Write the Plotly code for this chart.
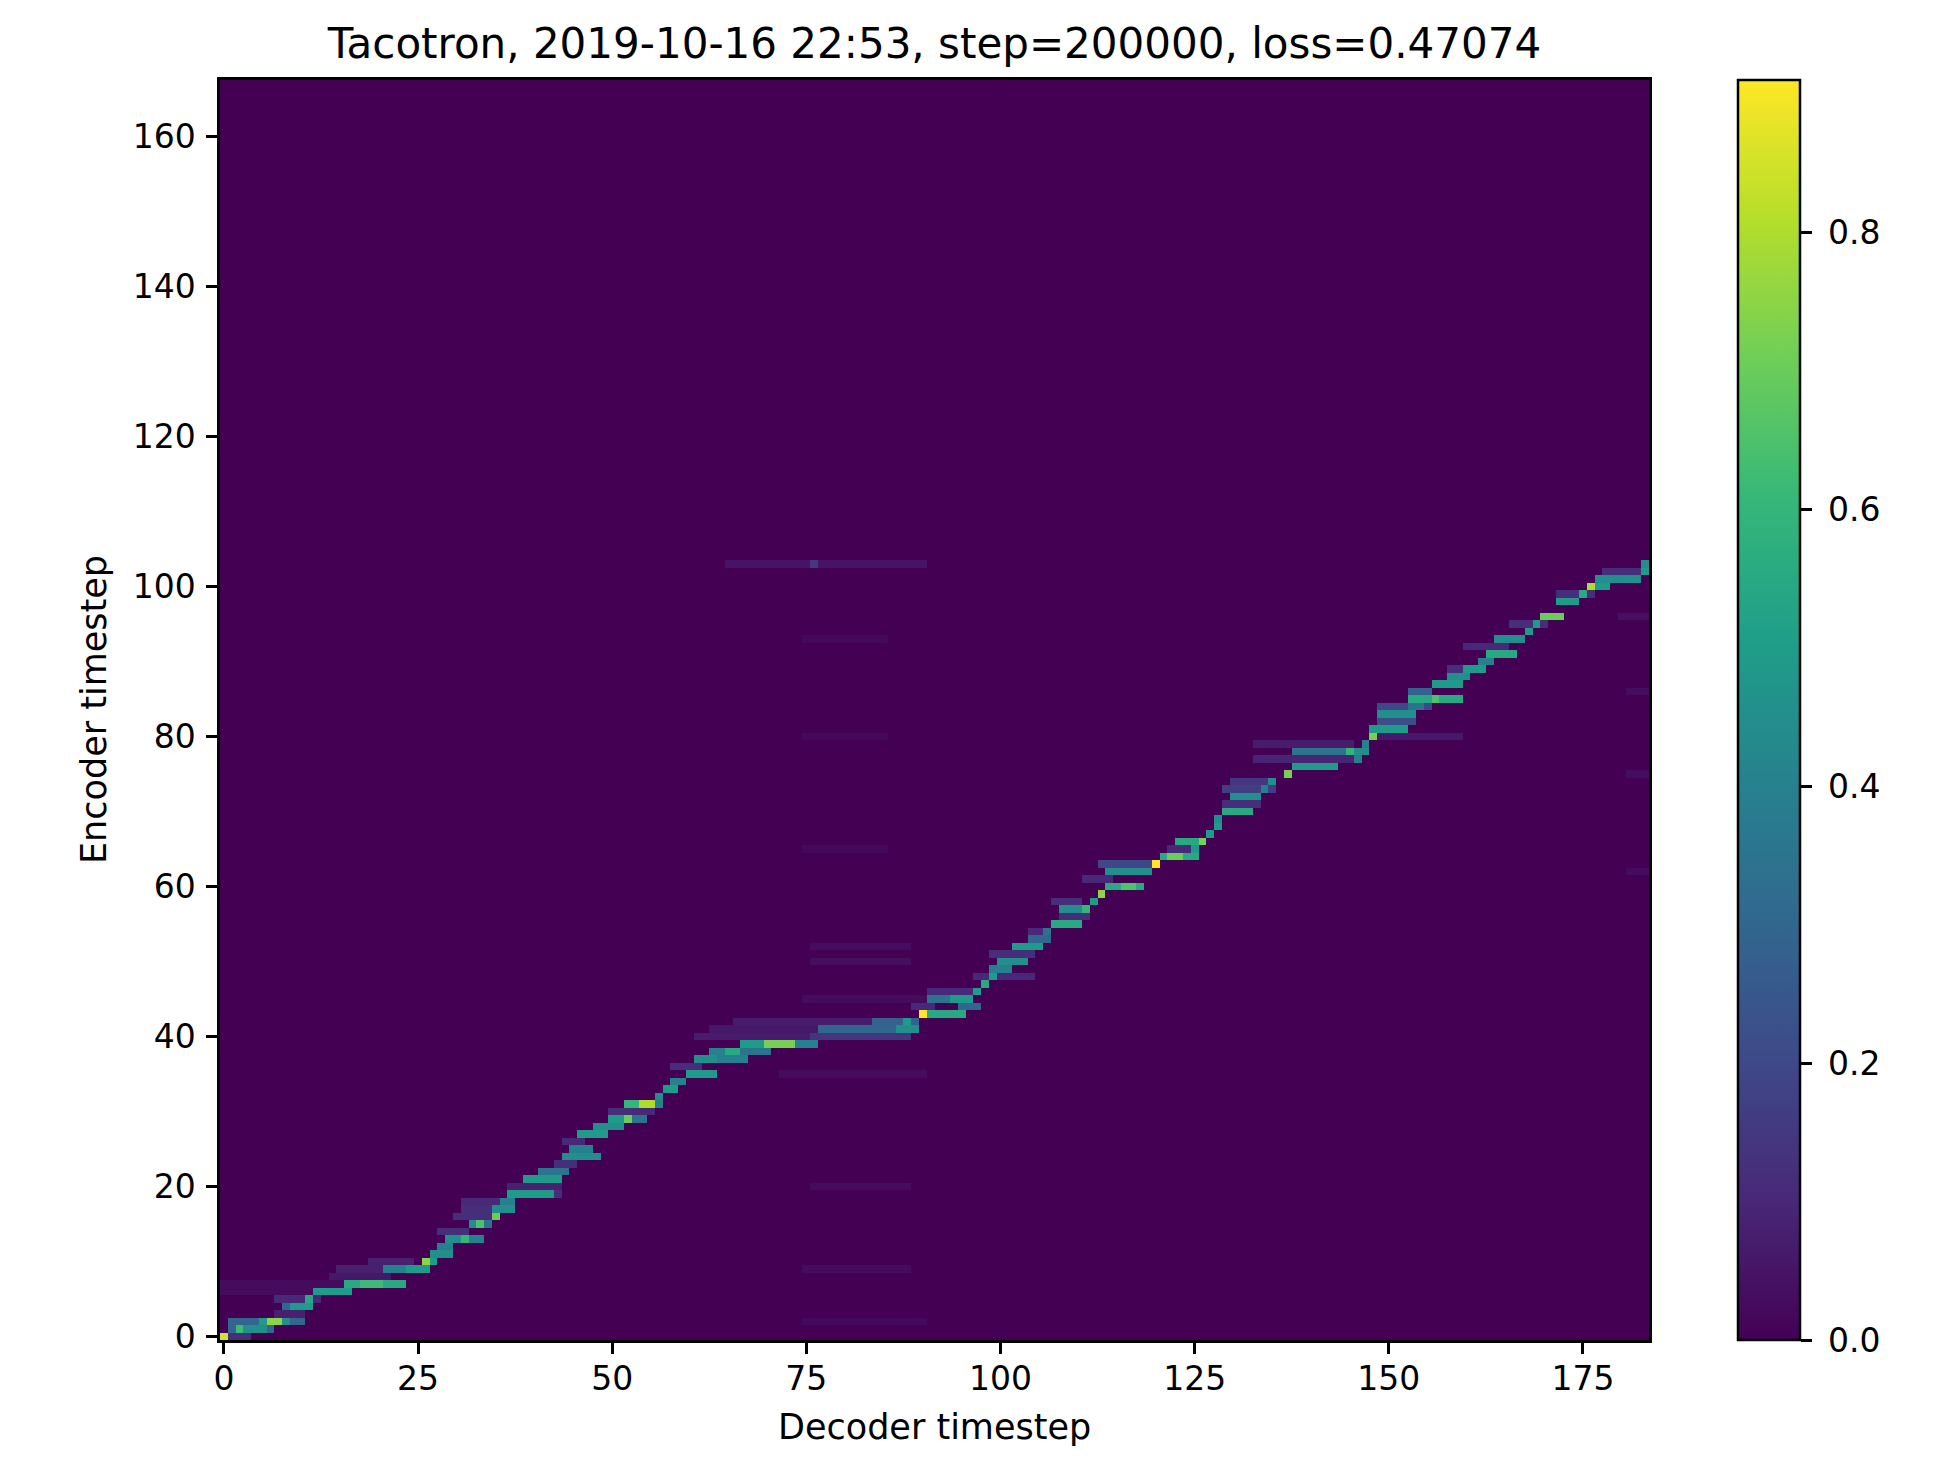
import numpy as np
import plotly.graph_objects as go

# ---------------- data ----------------
N_DECODER = 184          # decoder timesteps (x)
N_ENCODER = 168          # encoder timesteps (y)
TITLE = "Tacotron, 2019-10-16 22:53, step=200000, loss=0.47074"
X_TICKS = [0, 25, 50, 75, 100, 125, 150, 175]
Y_TICKS = [0, 20, 40, 60, 80, 100, 120, 140, 160]
CB_TICKS = [0.0, 0.2, 0.4, 0.6, 0.8]
Z_MAX = 0.91

# alignment path: (first decoder step, last decoder step, encoder step, weight)
PATH_RUNS = [
    (0, 0, 0, 0.85), (1, 1, 1, 0.3), (2, 2, 1, 0.62), (3, 5, 1, 0.45), (6, 6, 1, 0.3),
    (1, 4, 2, 0.3), (5, 5, 2, 0.5), (6, 7, 2, 0.75), (8, 8, 2, 0.45), (9, 10, 2, 0.3),
    (8, 8, 4, 0.3), (9, 11, 4, 0.5), (11, 11, 5, 0.55), (12, 16, 6, 0.5),
    (16, 23, 7, 0.55), (18, 20, 7, 0.62),
    (21, 23, 9, 0.4), (24, 26, 9, 0.5), (26, 26, 10, 0.75), (27, 27, 10, 0.5),
    (27, 29, 11, 0.45), (28, 29, 12, 0.4),
    (29, 30, 13, 0.45), (31, 31, 13, 0.6), (32, 33, 13, 0.4),
    (32, 32, 15, 0.45), (33, 33, 15, 0.65), (34, 34, 15, 0.35),
    (35, 35, 16, 0.7), (35, 37, 17, 0.45), (36, 37, 18, 0.4),
    (37, 42, 19, 0.5), (39, 43, 21, 0.5), (41, 44, 22, 0.35),
    (44, 48, 24, 0.45), (45, 47, 25, 0.4), (46, 49, 27, 0.5), (48, 51, 28, 0.45),
    (50, 51, 29, 0.5), (52, 52, 29, 0.7), (53, 54, 29, 0.35),
    (52, 53, 31, 0.6), (54, 55, 31, 0.8), (56, 56, 31, 0.4),
    (56, 56, 32, 0.45), (57, 58, 33, 0.5), (58, 59, 34, 0.4), (60, 63, 35, 0.5),
    (61, 63, 37, 0.45), (64, 67, 37, 0.4),
    (63, 64, 38, 0.4), (65, 66, 38, 0.55), (67, 70, 38, 0.35),
    (67, 69, 39, 0.5), (70, 73, 39, 0.72), (74, 76, 39, 0.4),
    (77, 86, 41, 0.3), (87, 89, 41, 0.45), (88, 88, 42, 0.5),
    (90, 90, 43, 0.92), (91, 95, 43, 0.55), (95, 97, 44, 0.3),
    (91, 93, 45, 0.35), (94, 96, 45, 0.5),
    (97, 97, 46, 0.5), (98, 98, 47, 0.55), (99, 99, 48, 0.5), (99, 101, 49, 0.4),
    (100, 103, 50, 0.45), (102, 105, 52, 0.5), (104, 106, 53, 0.3), (106, 106, 54, 0.35),
    (107, 110, 55, 0.55), (108, 111, 57, 0.45), (111, 111, 57, 0.6),
    (112, 112, 58, 0.5), (113, 113, 59, 0.75),
    (114, 118, 60, 0.55), (116, 117, 60, 0.65), (114, 119, 62, 0.45),
    (120, 120, 63, 0.92), (121, 125, 64, 0.55), (122, 123, 64, 0.7),
    (125, 125, 65, 0.5), (123, 126, 66, 0.55), (126, 126, 66, 0.72),
    (127, 127, 67, 0.5), (128, 128, 68, 0.5), (128, 128, 69, 0.45),
    (129, 132, 70, 0.55), (130, 133, 72, 0.45), (134, 134, 73, 0.4), (135, 135, 74, 0.45),
    (137, 137, 75, 0.72), (138, 143, 76, 0.5), (146, 146, 77, 0.4),
    (138, 144, 78, 0.35), (145, 145, 78, 0.6), (146, 147, 78, 0.45),
    (147, 147, 79, 0.4), (148, 148, 80, 0.72), (148, 152, 81, 0.5),
    (149, 153, 83, 0.45), (153, 154, 84, 0.35),
    (153, 159, 85, 0.55), (156, 156, 85, 0.65),
    (156, 159, 87, 0.5), (158, 160, 88, 0.45), (160, 162, 89, 0.5), (162, 163, 90, 0.4),
    (163, 166, 91, 0.55), (164, 167, 93, 0.45), (168, 168, 94, 0.5), (169, 169, 95, 0.5),
    (170, 172, 96, 0.7), (172, 174, 98, 0.5), (175, 175, 99, 0.55),
    (176, 176, 100, 0.8), (177, 178, 100, 0.5), (177, 182, 101, 0.45),
    (183, 183, 102, 0.5), (183, 183, 103, 0.45),
]

# dim spread around the path
HALO_RUNS = [
    (1, 3, 0, 0.12), (7, 10, 3, 0.08), (7, 12, 5, 0.1),
    (0, 12, 6, 0.025), (0, 15, 7, 0.025), (14, 21, 8, 0.06), (15, 21, 9, 0.08),
    (19, 24, 10, 0.08), (28, 31, 14, 0.12), (30, 34, 16, 0.12), (31, 35, 17, 0.12),
    (31, 35, 18, 0.1), (42, 43, 19, 0.12), (37, 43, 20, 0.08), (43, 45, 23, 0.12),
    (44, 46, 26, 0.1), (50, 52, 30, 0.12), (53, 55, 30, 0.1), (58, 61, 36, 0.12),
    (61, 76, 40, 0.07), (76, 88, 40, 0.14), (63, 76, 41, 0.06), (66, 83, 42, 0.07),
    (84, 89, 42, 0.28), (89, 91, 44, 0.1), (91, 97, 46, 0.1), (97, 104, 48, 0.1),
    (99, 104, 51, 0.12), (104, 106, 54, 0.1), (108, 111, 56, 0.12), (107, 110, 58, 0.12),
    (111, 114, 61, 0.1), (113, 119, 63, 0.2), (122, 125, 65, 0.1), (129, 133, 71, 0.12),
    (129, 135, 73, 0.17), (130, 135, 74, 0.15), (133, 145, 77, 0.09), (133, 145, 79, 0.07),
    (149, 159, 80, 0.06), (149, 153, 82, 0.22), (149, 155, 84, 0.2), (153, 155, 86, 0.28),
    (158, 162, 89, 0.12), (160, 165, 92, 0.1), (166, 170, 95, 0.12), (172, 176, 99, 0.12),
    (178, 183, 102, 0.12),
]

# faint background attention
NOISE_RUNS = [
    (75, 90, 2, 0.02), (75, 88, 9, 0.025), (76, 88, 20, 0.025), (72, 90, 35, 0.025),
    (75, 90, 45, 0.025), (76, 88, 50, 0.035), (76, 88, 52, 0.03), (75, 85, 65, 0.02),
    (75, 85, 80, 0.02), (75, 85, 93, 0.02), (65, 90, 103, 0.05), (76, 76, 103, 0.15),
    (180, 183, 96, 0.04), (181, 183, 86, 0.03), (181, 183, 75, 0.03), (181, 183, 62, 0.025),
]

# ---------------- build the matrix ----------------
z = np.zeros((N_ENCODER, N_DECODER))
for runs in (NOISE_RUNS, HALO_RUNS, PATH_RUNS):
    for d0, d1, enc, w in runs:
        z[enc, d0:d1 + 1] = np.maximum(z[enc, d0:d1 + 1], w)

FONT = "DejaVu Sans"
OFF = 8                      # page body margin
W, H = 1949 - 2 * OFF, 1481 - 2 * OFF
L, T = 220 - OFF, 80 - OFF
R = W - (1649 - OFF)
B = H - (1340 - OFF)
PW, PH = W - L - R, H - T - B
CB_LEFT = 1738 - OFF - L      # colorbar left edge, px from plot left
CB_THICK = 62

fig = go.Figure(go.Heatmap(
    z=z,
    x=list(range(N_DECODER)),
    y=list(range(N_ENCODER)),
    colorscale="Viridis",
    zmin=0, zmax=Z_MAX,
    zsmooth=False,
    hoverinfo="skip",
    colorbar=dict(
        x=CB_LEFT / PW, xanchor="left", xref="paper",
        y=0.5, yanchor="middle", len=1.0, lenmode="fraction",
        thickness=CB_THICK, thicknessmode="pixels",
        outlinecolor="black", outlinewidth=2.5,
        tickvals=CB_TICKS, showticklabels=False,
        ticks="outside", ticklen=11, tickwidth=2.5, tickcolor="black",
        ypad=0, xpad=0,
    ),
))

axis_common = dict(
    showline=True, mirror=True, linecolor="black", linewidth=2.5,
    ticks="outside", ticklen=11, tickwidth=2.5, tickcolor="black",
    tickfont=dict(family=FONT, size=33, color="black"),
    showgrid=False, zeroline=False,
)
fig.update_xaxes(range=[-0.5, N_DECODER - 0.5], tickvals=X_TICKS, ticklabelstandoff=-3, **axis_common)
fig.update_yaxes(range=[-0.5, N_ENCODER - 0.5], tickvals=Y_TICKS, ticklabelstandoff=4, **axis_common)

annotations = [
    dict(text="Decoder timestep", xref="paper", yref="paper",
         x=0.5, y=-87 / PH, xanchor="center", yanchor="middle", showarrow=False,
         font=dict(family=FONT, size=35, color="black")),
    dict(text="Encoder timestep", xref="paper", yref="paper",
         x=-126 / PW, y=0.5, xanchor="center", yanchor="middle", showarrow=False,
         textangle=-90, font=dict(family=FONT, size=35, color="black")),
]
# colorbar tick labels placed at their values along the bar
for v in CB_TICKS:
    annotations.append(dict(
        text=f"{v:.1f}", xref="paper", yref="paper",
        x=(CB_LEFT + CB_THICK + 26) / PW, y=v / Z_MAX,
        xanchor="left", yanchor="middle", showarrow=False,
        font=dict(family=FONT, size=33, color="black")))

fig.update_layout(
    width=W, height=H,
    margin=dict(l=L, r=R, t=T, b=B, autoexpand=False),
    paper_bgcolor="white", plot_bgcolor="#440154",
    font=dict(family=FONT, color="black"),
    title=dict(text=TITLE, font=dict(family=FONT, size=42, color="black"),
               x=(L + PW / 2) / W, xref="container", xanchor="center",
               y=1 - (43.5 - OFF) / H, yref="container", yanchor="middle"),
    annotations=annotations,
)

fig.write_html("out.html")
